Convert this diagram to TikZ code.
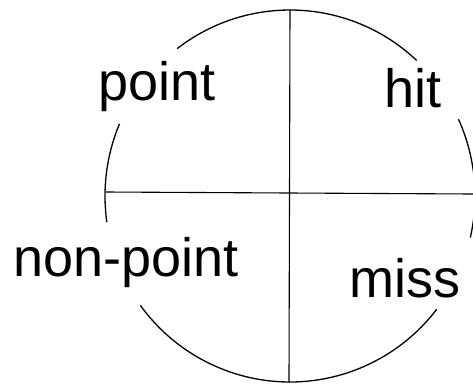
\documentclass[tikz,border=0pt]{standalone}
\usepackage{fontspec}
\setmainfont{Liberation Sans}
\tikzset{
    myarc/.style={line width=1.3pt,draw=black},
    myaxis/.style={line width=1.1pt,draw=black},
    mylabel/.style={font=\fontsize{54}{54}\selectfont,inner sep=0pt,anchor=base}
}
\begin{document}
\begin{tikzpicture}[x=1pt,y=1pt]
  \clip (-290,-188) rectangle (183,196);
  \coordinate (O) at (0,0);
  \coordinate (T) at (0,186);
  \coordinate (B) at (-1,-186);
  \coordinate (L) at (-184,4);
  \coordinate (R) at (183,2);

  % Kreisboegen
  \draw[myarc] (O) ++(46.8:185 and 186)
    arc[start angle=46.8,end angle=127.6,x radius=185,y radius=186];
  \draw[myarc] (O) ++(157.2:185 and 186)
    arc[start angle=157.2,end angle=188.1,x radius=185,y radius=186];
  \draw[myarc] (O) ++(216:185 and 186)
    arc[start angle=216,end angle=322.5,x radius=185,y radius=186];
  \draw[myarc] (O) ++(-12.9:185 and 186)
    arc[start angle=-12.9,end angle=24.4,x radius=185,y radius=186];

  % Achsen
  \draw[myaxis] (T) -- (B);
  \draw[myaxis] (L) -- (R);

  % Beschriftung
  \node[mylabel] (point) at (-133,96) {point};
  \node[mylabel] (hit) at (123,89) {hit};
  \node[mylabel] (nonpoint) at (-164,-80) {non-point};
  \node[mylabel] (miss) at (115,-101) {miss};
\end{tikzpicture}
\end{document}
